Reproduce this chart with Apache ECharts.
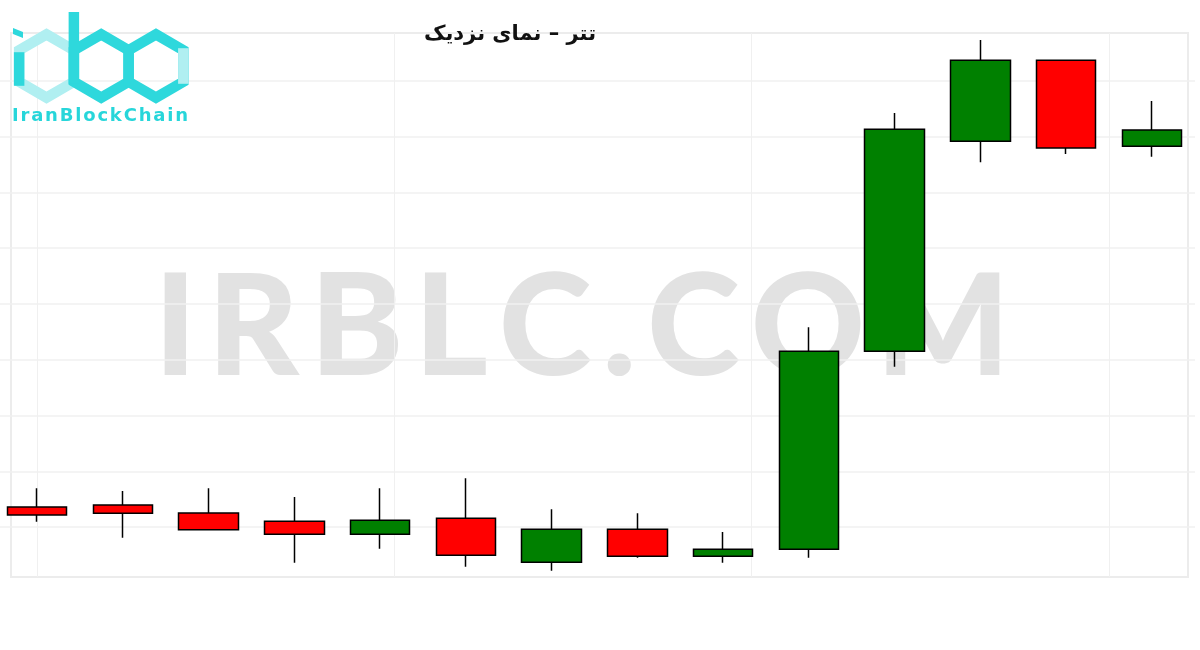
<!DOCTYPE html>
<html><head><meta charset="utf-8">
<script src="https://cdn.jsdelivr.net/npm/echarts@6/dist/echarts.min.js"></script>
<style>html,body{margin:0;padding:0;background:#fff}#c{width:1200px;height:650px}</style>
</head><body><div id="c"></div>
<script>
// ---- data (arbitrary price units; the reference shows no tick labels) ----
const categories = ['1','2','3','4','5','6','7','8','9','10','11','12','13','14'];
const openValues  = [13.62, 13.98, 12.54, 11.06,  8.73, 11.59,  3.71,  9.62, 4.78,  6.04, 41.52, 79.16, 93.67, 78.26];
const closeValues = [12.19, 12.49,  9.55,  8.73, 11.24,  4.96,  9.62,  4.78, 6.04, 41.52, 81.31, 93.67, 77.96, 81.18];
const lowValues   = [10.99,  8.12,  9.55,  3.64,  6.15,  2.92,  2.20,  4.53, 3.64,  4.53, 38.76, 75.39, 76.88, 76.40];
const highValues  = [16.97, 16.49, 16.97, 15.41, 16.97, 18.76, 13.21, 12.49, 9.14, 45.82, 84.23, 97.31, 93.67, 86.38];
const titleText = 'تتر – نمای نزدیک';
const watermarkText = 'IRBLC.COM';
const logoText = 'IranBlockChain';

// x position of each candle = its index in the category list
const candleData = categories.map((_, i) => [i, openValues[i], closeValues[i], lowValues[i], highValues[i]]);

// letter-spaced text helper (layout only)
const mctx = document.createElement('canvas').getContext('2d');
function spacedText(str, x0, x1, y, font, color, z) {
  mctx.font = font;
  const chars = str.split('');
  const widths = chars.map(ch => mctx.measureText(ch).width);
  const total = widths.reduce((a, b) => a + b, 0);
  const gap = (x1 - x0 - total) / (chars.length - 1);
  let x = x0;
  return chars.map((ch, i) => {
    const el = { type: 'text', x: x, y: y, z: z, silent: true,
      style: { text: ch, font: font, fill: color, align: 'left', verticalAlign: 'middle' } };
    x += widths[i] + gap;
    return el;
  });
}

function hexPoints(cx, cy, R) {
  const s = R * Math.sqrt(3) / 2;
  return [[cx, cy - R], [cx + s, cy - R / 2], [cx + s, cy + R / 2], [cx, cy + R], [cx - s, cy + R / 2], [cx - s, cy - R / 2]];
}

const dark = '#2ed8dc', pale = '#b0eff1';
const R = 31.6, s = R * Math.sqrt(3) / 2, cy = 66;
const cx1 = 46.5, cx2 = cx1 + 2 * s, cx3 = cx2 + 2 * s;
const lw = 10.5;

const logo = [
  { type: 'polygon', z: 50, shape: { points: hexPoints(cx1, cy, R) }, style: { fill: null, stroke: pale, lineWidth: lw, lineJoin: 'miter' } },
  { type: 'polygon', z: 51, shape: { points: hexPoints(cx2, cy, R) }, style: { fill: null, stroke: dark, lineWidth: lw, lineJoin: 'miter' } },
  { type: 'polygon', z: 51, shape: { points: hexPoints(cx3, cy, R) }, style: { fill: null, stroke: dark, lineWidth: lw, lineJoin: 'miter' } },
  { type: 'line', z: 52, shape: { x1: cx3 + s, y1: cy - R / 2 - 2, x2: cx3 + s, y2: cy + R / 2 + 2 }, style: { stroke: pale, lineWidth: lw } },
  { type: 'line', z: 52, shape: { x1: cx1 - s, y1: cy - R / 2 + 2, x2: cx1 - s, y2: cy + R / 2 + 4 }, style: { stroke: dark, lineWidth: lw } },
  { type: 'line', z: 52, shape: { x1: cx2 - s, y1: 12, x2: cx2 - s, y2: cy + R / 2 + 2 }, style: { stroke: dark, lineWidth: lw } },
  { type: 'polygon', z: 52, shape: { points: [[13, 28], [23, 32], [23, 38], [13, 34]] }, style: { fill: dark } }
].concat(spacedText(logoText, 12, 188, 116, 'bold 18px "DejaVu Sans"', '#27d6da', 53));

const watermark = spacedText(watermarkText, 154, 1010, 330, '900 141px Lato', '#e2e2e2', -5);

const chart = echarts.init(document.getElementById('c'), null, { renderer: 'canvas' });
chart.setOption({
  animation: false,
  backgroundColor: '#fff',
  title: {
    text: titleText, left: 505, top: 19, textAlign: 'center',
    textStyle: { fontFamily: 'DejaVu Sans', fontWeight: 'bold', fontSize: 21, color: '#111' }
  },
  grid: [
    { left: 0, right: 5, top: 25, bottom: 67 },
    { left: 11, right: 12, top: 33, bottom: 73, show: true, borderColor: '#ececec', borderWidth: 2, backgroundColor: 'transparent' },
    { left: 37, right: 91, top: 33, bottom: 73 }
  ],
  xAxis: [
    { type: 'value', gridIndex: 0, min: -0.4314, max: 13.5013,
      axisLine: { show: false }, axisTick: { show: false }, axisLabel: { show: false }, splitLine: { show: false } },
    { type: 'value', gridIndex: 1, show: false },
    { type: 'value', gridIndex: 2, min: 0, max: 3, interval: 1,
      axisLine: { show: false }, axisTick: { show: false }, axisLabel: { show: false },
      splitLine: { show: true, showMinLine: true, showMaxLine: true, lineStyle: { color: '#f0f0f0', width: 1 } } }
  ],
  yAxis: [
    { type: 'value', gridIndex: 0, min: 0, max: 100, interval: 10,
      axisLine: { show: false }, axisTick: { show: false }, axisLabel: { show: false },
      splitLine: { show: true, showMinLine: false, showMaxLine: false, lineStyle: { color: '#f0f0f0', width: 1.5 } } },
    { type: 'value', gridIndex: 1, show: false },
    { type: 'value', gridIndex: 2, show: false }
  ],
  graphic: { elements: watermark.concat(logo) },
  series: [{
    type: 'candlestick', xAxisIndex: 0, yAxisIndex: 0, z: 5,
    barWidth: 60,
    data: candleData,
    itemStyle: { color: '#008000', color0: '#ff0000', borderColor: '#000', borderColor0: '#000', borderWidth: 1.5 }
  }]
});
</script></body></html>
